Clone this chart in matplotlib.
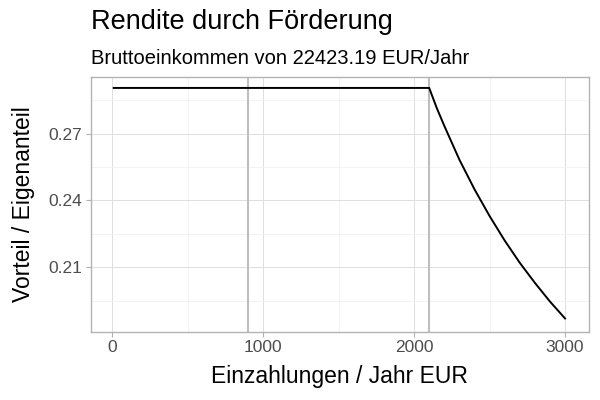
import matplotlib
matplotlib.use("Agg")
import matplotlib.pyplot as plt
from matplotlib.ticker import MultipleLocator

plt.rcParams['font.family'] = ['Liberation Sans', 'DejaVu Sans']

# Einzahlungen / Jahr (EUR) und Verhaeltnis Vorteil / Eigenanteil
einzahlung = [10, 2100, 2150, 2200, 2300, 2400, 2500, 2600, 2700, 2800, 2900, 3000]
rendite = [0.2905, 0.2905, 0.2815, 0.2735, 0.2583, 0.2450, 0.2330, 0.2220, 0.2120, 0.2030, 0.1946, 0.1870]
grenzen = [900, 2100]

titel = "Rendite durch Förderung"
untertitel = "Bruttoeinkommen von 22423.19 EUR/Jahr"

fig = plt.figure(figsize=(6, 4), dpi=100)
ax = fig.add_axes([0.151, 0.171, 0.831, 0.637])

ax.set_xlim(-143, 3160)
ax.set_ylim(0.1811, 0.2955)
ax.xaxis.set_major_locator(MultipleLocator(1000))
ax.xaxis.set_minor_locator(MultipleLocator(500))
ax.yaxis.set_major_locator(MultipleLocator(0.03))
ax.yaxis.set_minor_locator(MultipleLocator(0.015))
ax.yaxis.set_major_formatter(plt.FuncFormatter(lambda v, p: "%.2f" % v))

ax.grid(True, which='major', color='#dedede', lw=0.7)
ax.grid(True, which='minor', color='#efefef', lw=0.5)
ax.set_axisbelow(True)
for s in ax.spines.values():
    s.set_color('#b3b3b3')
    s.set_linewidth(1.0)
ax.tick_params(which='major', length=3.5, color='#b3b3b3', labelsize=12.5, labelcolor='#4d4d4d', pad=2.5)
ax.tick_params(which='minor', length=0)

for g in grenzen:
    ax.axvline(g, color='#bebebe', lw=1.5, zorder=2)
ax.plot(einzahlung, rendite, color='black', lw=1.4, zorder=3)

ax.set_xlabel("Einzahlungen / Jahr EUR", fontsize=16.5, labelpad=7.5)
ax.set_ylabel("Vorteil / Eigenanteil", fontsize=16.5, labelpad=9.5)

fig.text(0.151, 1 - 29 / 400, titel, fontsize=19.5, va='baseline', ha='left')
fig.text(0.151, 1 - 64.5 / 400, untertitel, fontsize=14.5, va='baseline', ha='left')

fig.savefig("out.png", dpi=100)
